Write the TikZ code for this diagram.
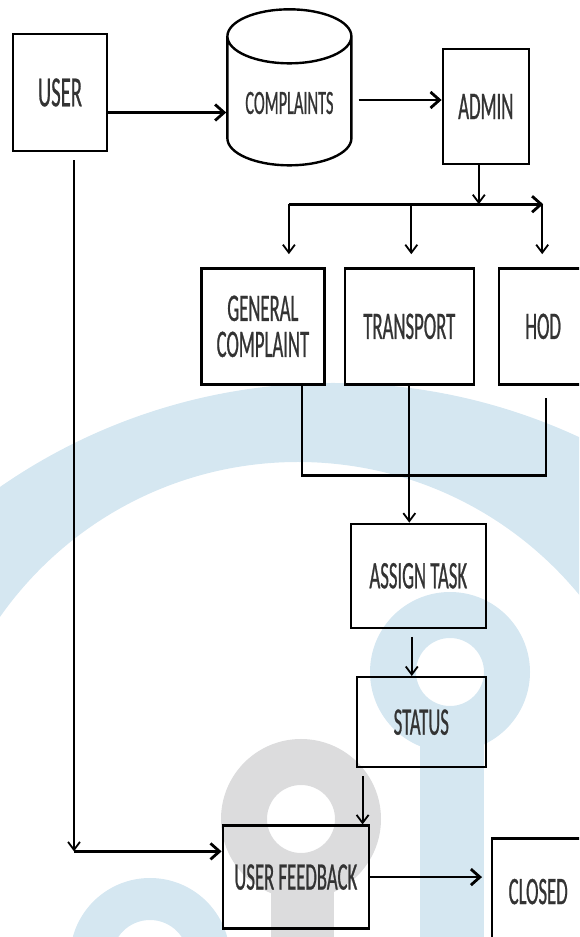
\documentclass[tikz,border=0pt]{standalone}
\usepackage{fontspec}
\setmainfont{Carlito}[FakeStretch=0.48, FakeBold=0.6]
\usepackage{xcolor}
\usetikzlibrary{shapes.geometric, arrows.meta, positioning, calc}
\definecolor{markblue}{HTML}{D5E7F1}
\definecolor{markgray}{HTML}{DCDCDD}
\tikzstyle{block} = [rectangle, draw=black, line width=2.4pt, text=black!80, font=\fontsize{39}{36}\selectfont, align=center, inner sep=0pt]
\tikzstyle{database} = [cylinder, shape border rotate=90, aspect=0.9, inner sep=30pt, draw=black, line width=2.4pt, minimum width=124pt, minimum height=156pt]
\tikzstyle{arrow} = [line width=2.8pt, -{Straight Barb[length=9pt,width=16pt]}]
\tikzstyle{thinarrow} = [line width=1.8pt, -{Straight Barb[length=8pt,width=12pt]}]
\tikzstyle{wire} = [line width=2.4pt]

\begin{document}
\begin{tikzpicture}[x=1pt, y=1pt]
    \useasboundingbox (0,0) rectangle (579,937);
    \clip (0,0) rectangle (579,937);

    % Watermark
    \fill[markblue, even odd rule] (333,-31) circle (585pt) (298,111) circle (364pt);
    \fill[markblue, even odd rule] (450,265) circle (80pt) circle (34pt);
    \fill[markblue] (420,217) rectangle (484,0);
    \fill[markgray, even odd rule] (301,118) circle (80pt) circle (34pt);
    \fill[markgray] (271,77) rectangle (334,0);
    \fill[markblue, even odd rule] (150,-21) circle (80pt) circle (38pt);

    % Entry
    \node[block, minimum width=94pt, minimum height=117pt, font=\fontsize{43}{40}\selectfont] (user) at (60,844.5) {USER};
    \node[database, right=118pt of user, yshift=-20.5pt,
          label={[text=black!80, font=\fontsize{34}{32}\selectfont, yshift=10pt]center:COMPLAINTS}] (complaints) {};
    \node[block, minimum width=86pt, minimum height=115pt, right=89pt of complaints, yshift=6.5pt] (admin) {ADMIN};

    % Categories
    \node[block, minimum width=129pt, minimum height=116pt, below=102pt of admin, xshift=-76.5pt] (trans) {TRANSPORT};
    \node[block, minimum width=123pt, minimum height=116pt, left=18pt of trans] (gen) {GENERAL\\COMPLAINT};
    \node[block, minimum width=88pt, minimum height=116pt, right=23pt of trans] (hod) {HOD};

    % Handling
    \node[block, minimum width=135pt, minimum height=104pt, below=137pt of trans, xshift=9pt] (assign) {ASSIGN TASK};
    \node[block, minimum width=129pt, minimum height=90pt, below=47pt of assign, xshift=3pt] (status) {STATUS};
    \node[block, minimum width=146pt, minimum height=103pt, below=56pt of status, xshift=-125.5pt] (feedback) {USER FEEDBACK};
    \node[block, minimum width=92pt, minimum height=106pt, right=121pt of feedback, yshift=-14.5pt] (closed) {CLOSED};

    % Flows
    \draw[arrow] ([yshift=-20pt]user.east) -- ([yshift=-20pt]user.east -| complaints.west);
    \draw[arrow] ([xshift=6pt,yshift=13pt]complaints.east) -- ([yshift=13pt]complaints.east -| admin.west);
    \coordinate (bus) at ([xshift=-7pt,yshift=-39pt]admin.south);
    \draw[thinarrow] ([xshift=-7pt]admin.south) -- (bus);
    \draw[arrow] ([xshift=26pt]gen.north |- bus) -- (hod.north |- bus);
    \draw[thinarrow] ([xshift=26pt]gen.north |- bus) -- ([xshift=26pt,yshift=13pt]gen.north);
    \draw[thinarrow] ([xshift=2pt]trans.north |- bus) -- ([xshift=2pt,yshift=13pt]trans.north);
    \draw[thinarrow] ([xshift=-1pt]hod.north |- bus) -- ([xshift=-1pt,yshift=13pt]hod.north);
    \draw[wire] ([xshift=39pt]gen.south) -- ++(0,-90) -| ([xshift=3pt,yshift=-12pt]hod.south);
    \draw[thinarrow] (trans.south) -- (trans.south |- assign.north);
    \draw[thinarrow] ([xshift=-6.5pt,yshift=-8pt]assign.south) -- ([xshift=-6.5pt]assign.south |- status.north);
    \draw[thinarrow] ([xshift=7pt,yshift=-8pt]status.south west) -- ([xshift=7pt]status.south west |- feedback.north);
    \coordinate (fbin) at ([yshift=-27pt]feedback.north west);
    \draw[thinarrow] ([xshift=14pt,yshift=-8pt]user.south) -- ([xshift=14pt]user.south |- fbin);
    \draw[arrow] ([xshift=14pt]user.south |- fbin) -- (fbin);
    \draw[arrow] (feedback.east) -- ([xshift=-9pt]feedback.east -| closed.west);

\end{tikzpicture}
\end{document}
